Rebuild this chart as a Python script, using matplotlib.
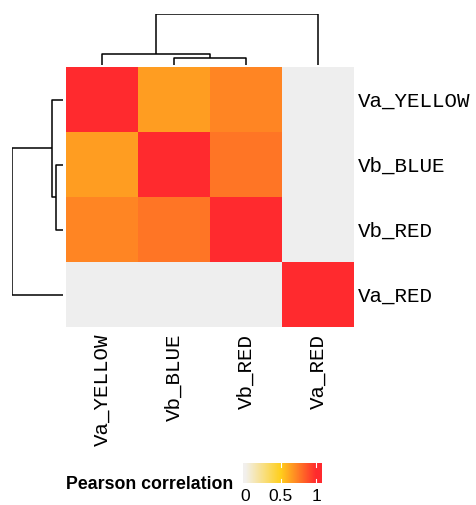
import numpy as np
import matplotlib.pyplot as plt
from matplotlib.colors import LinearSegmentedColormap

samples = ["Va_YELLOW", "Vb_BLUE", "Vb_RED", "Va_RED"]

# pairwise Pearson correlation, NaN where it could not be computed
corr = np.array([
    [1.00, 0.65, 0.72, np.nan],
    [0.65, 1.00, 0.77, np.nan],
    [0.72, 0.77, 1.00, np.nan],
    [np.nan, np.nan, np.nan, 1.00],
])

# hierarchical clustering: (left, right, height); leaves 0..3, merges 4..
merges = [(1, 2, 0.23), (0, 4, 0.36), (5, 3, 1.67)]

legend_ticks = [0, 0.5, 1]

cmap = LinearSegmentedColormap.from_list(
    "pc", [(0.0, "#f2f0ee"), (0.5, "#ffcf1c"), (1.0, "#ff2a2e")])
cmap.set_bad("#eeeeee")

W, H = 476, 505
fig = plt.figure(figsize=(W / 100, H / 100), dpi=100)


def px_axes(x0, y0, x1, y1):
    return fig.add_axes([x0 / W, 1 - y1 / H, (x1 - x0) / W, (y1 - y0) / H])


# heatmap
ax = px_axes(66, 67, 354, 327)
ax.imshow(np.ma.masked_invalid(corr), cmap=cmap, vmin=0, vmax=1,
          aspect="auto", interpolation="nearest", extent=(0, 4, 4, 0))
ax.set_xlim(0, 4)
ax.set_ylim(4, 0)
for s in ax.spines.values():
    s.set_visible(False)
ax.set_xticks(np.arange(4) + 0.5)
ax.set_yticks(np.arange(4) + 0.5)
ax.set_xticklabels(samples, rotation=90, family="Liberation Mono", fontsize=15)
ax.set_yticklabels(samples, family="Liberation Mono", fontsize=15)
ax.yaxis.tick_right()
ax.tick_params(axis="y", length=0, pad=3)
ax.tick_params(axis="x", length=0, pad=5)


def dendro_segments(merges, n):
    pos = {i: i + 0.5 for i in range(n)}
    hgt = {i: 0.0 for i in range(n)}
    segs = []
    for k, (a, b, h) in enumerate(merges):
        segs.append(([pos[a], pos[a], pos[b], pos[b]], [hgt[a], h, h, hgt[b]]))
        pos[n + k] = (pos[a] + pos[b]) / 2
        hgt[n + k] = h
    return segs


segs = dendro_segments(merges, len(samples))
top = merges[-1][2]

# column dendrogram
axc = px_axes(66, 14, 354, 65)
for xs, hs in segs:
    axc.plot(xs, hs, color="black", lw=1.1, solid_capstyle="butt")
axc.set_xlim(0, 4)
axc.set_ylim(0, top)
axc.axis("off")

# row dendrogram
axr = px_axes(12, 67, 63, 327)
for xs, hs in segs:
    axr.plot(hs, xs, color="black", lw=1.1, solid_capstyle="butt")
axr.set_ylim(4, 0)
axr.set_xlim(top, 0)
axr.axis("off")

# colour legend
axl = px_axes(243, 463, 322, 483)
lo, hi = -0.03, 1.08
grad = np.linspace(lo, hi, 256)[None, :]
axl.imshow(grad, cmap=cmap, vmin=0, vmax=1, aspect="auto", extent=(lo, hi, 0, 1))
axl.set_xlim(lo, hi)
axl.set_ylim(0, 1)
for t in legend_ticks[1:]:
    axl.plot([t, t], [0, 0.2], color="white", lw=0.8)
    axl.plot([t, t], [0.8, 1], color="white", lw=0.8)
for s in axl.spines.values():
    s.set_visible(False)
axl.set_yticks([])
axl.set_xticks(legend_ticks)
axl.set_xticklabels(["0", "0.5", "1"], fontsize=12.5, family="Liberation Sans")
axl.tick_params(length=0, pad=4)

fig.text(66 / W, 1 - 489 / H, "Pearson correlation", fontsize=12.8,
         fontweight="bold", family="Liberation Sans", ha="left", va="baseline")

fig.savefig("out.png", dpi=100)
